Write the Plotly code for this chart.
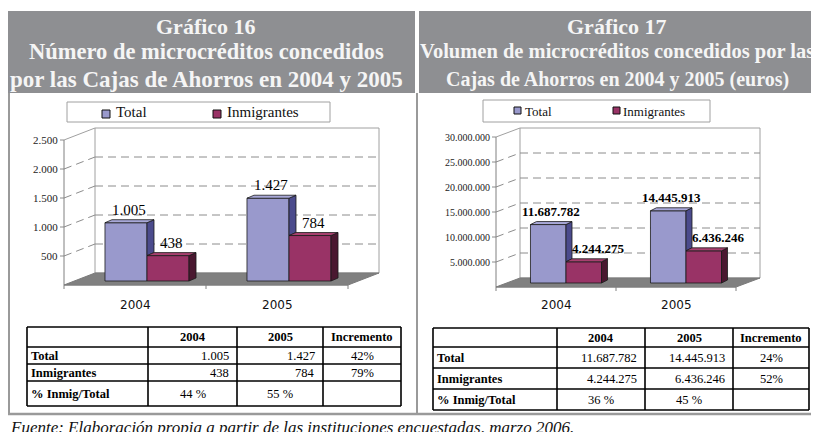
import plotly.graph_objects as go

# The page body has an 8px margin; all pixel constants below are in
# screenshot coordinates and converted with px()/py().
OFF = 8
W, H = 811, 424

# ---------------- data ----------------
years = ["2004", "2005"]
series_names = ["Total", "Inmigrantes"]
num_total = [1005, 1427]
num_inmig = [438, 784]
vol_total = [11687782, 14445913]
vol_inmig = [4244275, 6436246]
num_ticks = [500, 1000, 1500, 2000, 2500]
vol_ticks = [5000000, 10000000, 15000000, 20000000, 25000000, 30000000]
row_labels = ["Total", "Inmigrantes", "% Inmig/Total"]
col_labels = ["", "2004", "2005", "Incremento"]

title16 = ["Gráfico 16", "Número de microcréditos concedidos", "por las Cajas de Ahorros en 2004 y 2005"]
title17 = ["Gráfico 17", "Volumen de microcréditos concedidos por las", "Cajas de Ahorros en 2004 y 2005 (euros)"]
source = "Fuente: Elaboración propia a partir de las instituciones encuestadas, marzo 2006."


def fmt(v):
    return f"{v:,}".replace(",", ".")


def px(x):
    return (x - OFF) / W


def py(y):
    return 1 - (y - OFF) / H


COLORS = [
    dict(front="#9999CC", side="#4B4B8C", top="#A8A8D8"),
    dict(front="#993366", side="#4A1830", top="#A8406F"),
]
SERIF = "Liberation Serif"
GRID = "#8c8c8c"

fig = go.Figure()
shapes = []
annotations = []

charts = [
    dict(xa="x", ya="y", c0=147, cat=142, y0=281, ymax=2500, hpx=145,
         front=(-12, 4), back=(19, -8), depth=(7, -3),
         ticks=num_ticks, vals=[num_total, num_inmig],
         tickfont=dict(family=SERIF, size=11, color="#222"),
         labfont=dict(family=SERIF, size=15, color="#000"), labbold=False,
         labxshift=[0, 0], catshift=-11,
         legend=dict(box=(67, 102, 330, 122), sq=[102, 213], sqy=(110, 118), tx=[114, 225], fs=15)),
    dict(xa="x2", ya="y2", c0=566, cat=120, y0=283, ymax=30000000, hpx=150,
         front=(-10, 4), back=(14, -5), depth=(6, -3),
         ticks=vol_ticks, vals=[vol_total, vol_inmig],
         tickfont=dict(family=SERIF, size=10, color="#222"),
         labfont=dict(family=SERIF, size=13, color="#000"), labbold=True,
         labxshift=[0, 12], catshift=-9,
         legend=dict(box=(483, 100, 710, 122), sq=[514, 613], sqy=(107, 114), tx=[523, 621], fs=13)),
]

bw = 0.296  # bar width in category units
pad = 10

for ci, c in enumerate(charts):
    xa, ya = c["xa"], c["ya"]
    c0, cat, y0, ymax, hpx = c["c0"], c["cat"], c["y0"], c["ymax"], c["hpx"]
    s = hpx / ymax
    fdx, fdy = c["front"]
    bdx, bdy = c["back"]
    ddx, ddy = c["depth"]

    def X(u, dpx=0, cat=cat):
        return u + dpx / cat

    def Y(v, dpx=0, s=s):
        return v - dpx / s

    xmin_px = c0 - 0.5 * cat + fdx - pad
    xmax_px = c0 + 1.5 * cat + bdx + pad
    ybot_px = y0 + fdy + pad
    ytop_px = y0 - hpx + bdy - pad
    axis_x = dict(range=[(xmin_px - c0) / cat, (xmax_px - c0) / cat],
                  domain=[px(xmin_px), px(xmax_px)], visible=False, fixedrange=True)
    axis_y = dict(range=[-(fdy + pad) / s, ymax + (-bdy + pad) / s],
                  domain=[py(ybot_px), py(ytop_px)], visible=False, fixedrange=True)
    xkey = "xaxis" if xa == "x" else "xaxis2"
    ykey = "yaxis" if ya == "y" else "yaxis2"
    axis_y["anchor"] = xa
    axis_x["anchor"] = ya
    fig.update_layout({xkey: axis_x, ykey: axis_y})

    def line(x0, y0_, x1, y1, color=GRID, width=1, dash=None):
        shapes.append(dict(type="line", xref=xa, yref=ya, x0=x0, y0=y0_, x1=x1, y1=y1,
                           layer="below", line=dict(color=color, width=width, dash=dash)))

    # back wall
    shapes.append(dict(type="rect", xref=xa, yref=ya, layer="below",
                       x0=X(-0.5, bdx), x1=X(1.5, bdx), y0=Y(0, bdy), y1=Y(ymax, bdy),
                       fillcolor="white", line=dict(color="#a0a0a0", width=1)))
    # floor
    path = (f"M{X(-0.5, fdx)},{Y(0, fdy)} L{X(1.5, fdx)},{Y(0, fdy)} "
            f"L{X(1.5, bdx)},{Y(0, bdy)} L{X(-0.5, bdx)},{Y(0, bdy)} Z")
    shapes.append(dict(type="path", xref=xa, yref=ya, layer="below", path=path,
                       fillcolor="#808080", line=dict(color="#7a7a7a", width=1)))
    # gridlines on back wall + left wall
    for t in c["ticks"]:
        if t < ymax:
            line(X(-0.5, bdx), Y(t, bdy), X(1.5, bdx), Y(t, bdy), dash="8px,5px")
            line(X(-0.5, fdx), Y(t, fdy), X(-0.5, bdx), Y(t, bdy), dash="8px,5px")
        else:
            line(X(-0.5, fdx), Y(t, fdy), X(-0.5, bdx), Y(t, bdy), color="#a0a0a0")
        line(X(-0.5, fdx - 4), Y(t, fdy), X(-0.5, fdx), Y(t, fdy))
    # front axis
    line(X(-0.5, fdx), Y(0, fdy), X(-0.5, fdx), Y(ymax, fdy), color="#808080")
    # floor front edge and category ticks
    line(X(-0.5, fdx), Y(0, fdy), X(1.5, fdx), Y(0, fdy), color="#808080")
    for k in range(len(years) + 1):
        line(X(k - 0.5, fdx), Y(0, fdy), X(k - 0.5, fdx), Y(0, fdy + 4), color="#808080")

    # bars
    dx = ddx / cat
    dy = -ddy / s
    tot_vals, inm_vals = c["vals"]
    for j, vals in enumerate(c["vals"]):
        col = COLORS[j]
        fig.add_trace(go.Bar(x=list(range(len(years))), y=vals, width=bw, offset=-bw + j * bw,
                             marker=dict(color=col["front"], line=dict(color="#1a1a1a", width=0.8)),
                             xaxis=xa, yaxis=ya, showlegend=False, hoverinfo="skip", name=series_names[j]))
    for k in range(len(years)):
        for j, vals in enumerate(c["vals"]):
            col = COLORS[j]
            v = vals[k]
            a = k - bw + j * bw
            b = a + bw
            lo = 0
            if j == 0:
                lo = min(inm_vals[k], v)
            if lo < v:
                fig.add_trace(go.Scatter(
                    x=[b, b + dx, b + dx, b, b], y=[lo, lo + dy, v + dy, v, lo],
                    fill="toself", fillcolor=col["side"], mode="lines",
                    line=dict(color="#1a1a1a", width=0.8), xaxis=xa, yaxis=ya,
                    showlegend=False, hoverinfo="skip"))
            fig.add_trace(go.Scatter(
                x=[a, b, b + dx, a + dx, a], y=[v, v, v + dy, v + dy, v],
                fill="toself", fillcolor=col["top"], mode="lines",
                line=dict(color="#1a1a1a", width=0.8), xaxis=xa, yaxis=ya,
                showlegend=False, hoverinfo="skip"))
            txt = fmt(v)
            if c["labbold"]:
                txt = f"<b>{txt}</b>"
            annotations.append(dict(xref=xa, yref=ya, x=(a + b) / 2 + dx / 2, y=v + dy,
                                    text=txt, showarrow=False, yanchor="middle", yshift=10,
                                    xshift=c["labxshift"][j], font=c["labfont"]))

    # tick labels
    for t in c["ticks"]:
        annotations.append(dict(xref=xa, yref=ya, x=X(-0.5, fdx - 4), y=Y(t, fdy),
                                text=fmt(t), showarrow=False, xanchor="right", yanchor="middle",
                                font=c["tickfont"]))
    for k, yr in enumerate(years):
        annotations.append(dict(xref=xa, yref=ya, x=X(k, fdx), y=Y(0, fdy), text=yr,
                                showarrow=False, yanchor="top", yshift=c["catshift"],
                                font=dict(family="DejaVu Sans", size=12, color="#111")))

    # legend
    lg = c["legend"]
    bx0, by0, bx1, by1 = lg["box"]
    shapes.append(dict(type="rect", xref="paper", yref="paper", x0=px(bx0), x1=px(bx1),
                       y0=py(by0), y1=py(by1), fillcolor="white",
                       line=dict(color="#a0a0a0", width=1)))
    for j, nm in enumerate(series_names):
        sq = lg["sq"][j]
        sh = lg["sqy"][1] - lg["sqy"][0]
        shapes.append(dict(type="rect", xref="paper", yref="paper", x0=px(sq), x1=px(sq + sh),
                           y0=py(lg["sqy"][0]), y1=py(lg["sqy"][1]),
                           fillcolor=COLORS[j]["front"], line=dict(color="#111", width=1)))
        annotations.append(dict(xref="paper", yref="paper", x=px(lg["tx"][j]),
                                y=py((by0 + by1) / 2), text=nm, showarrow=False,
                                xanchor="left", yanchor="middle",
                                font=dict(family=SERIF, size=lg["fs"], color="#111")))

# ---------------- header bands & frame ----------------
HEAD = "#8e8f92"
for x0, x1 in [(8, 415), (419, 819)]:
    shapes.append(dict(type="rect", xref="paper", yref="paper", x0=px(x0), x1=px(x1),
                       y0=py(11), y1=py(93), fillcolor=HEAD, line=dict(width=0),
                       layer="below"))
for xx in [9, 417]:
    shapes.append(dict(type="line", xref="paper", yref="paper", x0=px(xx), x1=px(xx),
                       y0=py(93), y1=py(414), line=dict(color="#9a9a9a", width=2)))
shapes.append(dict(type="line", xref="paper", yref="paper", x0=px(8), x1=px(818),
                   y0=py(414), y1=py(414), line=dict(color="#9a9a9a", width=2.5)))

for lines_, xc, sizes in [(title16, 206, [22, 22.5, 23]), (title17, 617, [22, 20.5, 20])]:
    for txt, yc, fs in zip(lines_, [26, 52, 79], sizes):
        annotations.append(dict(xref="paper", yref="paper", x=px(xc), y=py(yc), text=f"<b>{txt}</b>",
                                showarrow=False, xanchor="center", yanchor="middle",
                                font=dict(family=SERIF, size=fs, color="#f5f5f5")))

annotations.append(dict(xref="paper", yref="paper", x=px(8), y=py(416), text=f"<i>{source}</i>",
                        showarrow=False, xanchor="left", yanchor="top",
                        font=dict(family=SERIF, size=17, color="#111")))

# ---------------- tables (grid lines + cell texts) ----------------
tables = [
    dict(total=num_total, inmig=num_inmig, cols=[27, 148, 237, 323, 401], rows=[327, 347, 364, 381, 406]),
    dict(total=vol_total, inmig=vol_inmig, cols=[433, 557, 645, 733, 809], rows=[328, 347, 368, 389, 410]),
]
TF = dict(family=SERIF, size=12.5, color="black")
for tb in tables:
    tot, inm, cols, rows = tb["total"], tb["inmig"], tb["cols"], tb["rows"]
    pct = [f"{round(inm[k] / tot[k] * 100)} %" for k in range(2)]
    inc = [f"{round((tot[1] / tot[0] - 1) * 100)}%", f"{round((inm[1] / inm[0] - 1) * 100)}%", ""]
    body = [
        [(f"<b>{r}</b>", "left") for r in row_labels],
        [(fmt(tot[0]), "right"), (fmt(inm[0]), "right"), (pct[0], "center")],
        [(fmt(tot[1]), "right"), (fmt(inm[1]), "right"), (pct[1], "center")],
        [(inc[0], "center"), (inc[1], "center"), (inc[2], "center")],
    ]
    # grid lines
    for yy in rows:
        shapes.append(dict(type="line", xref="paper", yref="paper", x0=px(cols[0]), x1=px(cols[-1]),
                           y0=py(yy), y1=py(yy), line=dict(color="black", width=1.6)))
    for xx in cols:
        shapes.append(dict(type="line", xref="paper", yref="paper", x0=px(xx), x1=px(xx),
                           y0=py(rows[0]), y1=py(rows[-1]), line=dict(color="black", width=1.6)))
    # header
    for ci_, h in enumerate(col_labels):
        if h:
            annotations.append(dict(xref="paper", yref="paper", x=px((cols[ci_] + cols[ci_ + 1]) / 2),
                                    y=py((rows[0] + rows[1]) / 2), text=f"<b>{h}</b>", showarrow=False,
                                    xanchor="center", yanchor="middle", font=TF))
    # body
    for ci_, column in enumerate(body):
        for ri, (txt, al) in enumerate(column):
            if not txt:
                continue
            if al == "left":
                xx, xan = cols[ci_] + 2, "left"
            elif al == "right":
                xx, xan = cols[ci_ + 1] - 6, "right"
            else:
                xx, xan = (cols[ci_] + cols[ci_ + 1]) / 2, "center"
            annotations.append(dict(xref="paper", yref="paper", x=px(xx),
                                    y=py((rows[ri + 1] + rows[ri + 2]) / 2), text=txt, showarrow=False,
                                    xanchor=xan, yanchor="middle", font=TF))

fig.update_layout(
    width=W, height=H, margin=dict(l=0, r=0, t=0, b=0),
    paper_bgcolor="white", plot_bgcolor="rgba(0,0,0,0)",
    barmode="overlay", showlegend=False,
    shapes=shapes, annotations=annotations,
)

fig.write_html("out.html")
